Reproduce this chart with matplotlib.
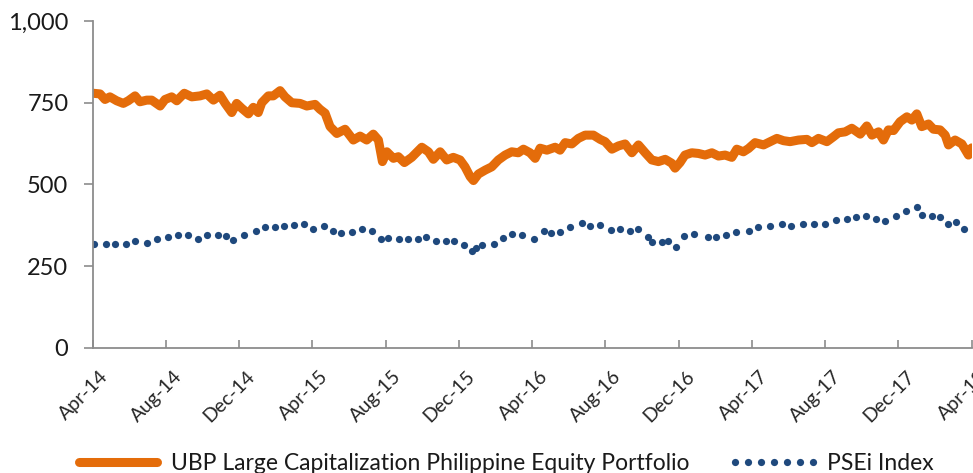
# UBP Large Cap Philippine Equity Portfolio vs PSEi, Apr-14 to Apr-18

import matplotlib.pyplot as plt
import matplotlib.transforms as mtransforms
from matplotlib.lines import Line2D
from matplotlib.ticker import FuncFormatter

plt.rcParams['font.family'] = ['Lato', 'DejaVu Sans']

# x = months since Apr-2014
ubp_month = [0.03, 0.40, 0.67, 0.94, 1.31, 1.67, 1.94, 2.31, 2.58, 2.95, 3.22, 3.68, 3.95,
             4.31, 4.59, 5.00, 5.41, 5.86, 6.23, 6.59, 6.95, 7.23, 7.59, 7.86, 8.14, 8.50,
             8.77, 9.04, 9.23, 9.59, 9.86, 10.23, 10.50, 10.87, 11.32, 11.69, 12.14, 12.41,
             12.69, 12.96, 13.33, 13.78, 14.23, 14.60, 14.96, 15.32, 15.60, 15.82, 16.06,
             16.42, 16.69, 17.02, 17.42, 17.97, 18.33, 18.60, 18.97, 19.33, 19.69, 20.06,
             20.33, 20.61, 20.79, 21.06, 21.43, 21.79, 22.15, 22.52, 22.88, 23.24, 23.52,
             23.88, 24.16, 24.43, 24.80, 25.25, 25.52, 25.80, 26.16, 26.52, 26.89, 27.34,
             27.71, 27.98, 28.35, 28.71, 29.07, 29.44, 29.80, 30.17, 30.53, 30.89, 31.26,
             31.62, 31.80, 32.07, 32.34, 32.71, 33.07, 33.44, 33.81, 34.17, 34.53, 34.90,
             35.17, 35.53, 35.81, 36.17, 36.63, 36.99, 37.36, 37.72, 38.08, 38.54, 39.00,
             39.27, 39.63, 40.09, 40.45, 40.72, 41.09, 41.45, 41.91, 42.27, 42.55, 42.91,
             43.18, 43.45, 43.73, 44.09, 44.46, 44.73, 45.00, 45.27, 45.64, 45.91, 46.27,
             46.55, 46.73, 47.09, 47.46, 47.82, 48.00]
ubp_value = [779, 777, 760, 768, 756, 748, 756, 771, 753, 758, 758, 740, 760,
             768, 756, 779, 768, 771, 777, 758, 773, 748, 720, 748, 733, 716,
             736, 720, 750, 771, 771, 787, 768, 750, 748, 740, 745, 730,
             718, 677, 656, 669, 636, 648, 636, 654, 636, 570, 600,
             580, 585, 567, 583, 614, 600, 577, 600, 575, 583, 575,
             554, 524, 512, 532, 544, 554, 575, 590, 600, 597, 608,
             597, 580, 611, 605, 614, 605, 628, 624, 641, 651, 651,
             638, 631, 608, 618, 624, 597, 621, 597, 575, 570, 577,
             565, 550, 567, 590, 597, 595, 590, 597, 587, 590, 583,
             608, 600, 610, 628, 621, 631, 641, 634, 631, 636, 638,
             628, 641, 631, 646, 658, 661, 672, 654, 679, 651, 661,
             636, 667, 665, 692, 707, 697, 716, 677, 685, 669, 667,
             651, 621, 636, 624, 590, 612]

psei_month = [0.09, 0.71, 1.22, 1.82, 2.31, 2.97, 3.51, 4.13, 4.64, 5.22, 5.74, 6.24, 6.83,
              7.30, 7.66, 8.28, 8.90, 9.41, 9.96, 10.46, 11.01, 11.56, 12.03, 12.65, 13.12,
              13.56, 14.15, 14.69, 15.24, 15.75, 16.11, 16.73, 17.24, 17.75, 18.19, 18.73,
              19.31, 19.72, 20.26, 20.70, 20.95, 21.28, 21.93, 22.41, 22.92, 23.46, 24.10,
              24.66, 25.03, 25.51, 26.08, 26.71, 27.14, 27.72, 28.31, 28.78, 29.33, 29.80,
              30.31, 30.56, 31.08, 31.44, 31.84, 32.28, 32.82, 33.59, 34.02, 34.57, 35.12,
              35.84, 36.32, 37.01, 37.63, 38.14, 38.79, 39.38, 39.96, 40.61, 41.20, 41.67,
              42.22, 42.76, 43.27, 43.86, 44.40, 45.02, 45.31, 45.82, 46.29, 46.73, 47.13,
              47.57]
psei_value = [318, 318, 318, 318, 328, 322, 333, 339, 345, 345, 332, 345, 345,
              342, 330, 346, 357, 369, 371, 373, 375, 378, 365, 374, 358,
              353, 356, 364, 357, 334, 337, 334, 332, 334, 339, 327,
              326, 328, 314, 298, 307, 316, 318, 335, 349, 346, 332,
              359, 351, 355, 369, 383, 374, 376, 361, 365, 359, 363,
              340, 323, 323, 326, 309, 343, 349, 339, 339, 346, 354,
              359, 370, 374, 378, 374, 379, 379, 379, 391, 394, 401,
              405, 394, 389, 404, 420, 430, 408, 405, 400, 379, 384,
              365]

tick_months = [0, 4, 8, 12, 16, 20, 24, 28, 32, 36, 40, 44, 48]
tick_labels = ['Apr-14', 'Aug-14', 'Dec-14', 'Apr-15', 'Aug-15', 'Dec-15', 'Apr-16',
               'Aug-16', 'Dec-16', 'Apr-17', 'Aug-17', 'Dec-17', 'Apr-18']
y_ticks = [0, 250, 500, 750, 1000]

orange = '#E46C0A'
navy = '#1F497D'
grey = '#8C8C8C'

fig = plt.figure(figsize=(9.73, 4.73), dpi=100)
ax = fig.add_axes([0.0953, 0.2643, 0.9034, 0.6913])

ax.plot(ubp_month, ubp_value, color=orange, lw=6.5,
        solid_joinstyle='round', solid_capstyle='round')
ax.plot(psei_month, psei_value, color=navy, ls='none', marker='o', ms=5.2, mew=0)

ax.set_xlim(0, 48)
ax.set_ylim(0, 1000)
ax.set_yticks(y_ticks)
ax.yaxis.set_major_formatter(FuncFormatter(lambda v, p: f'{int(v):,}'))
ax.set_xticks(tick_months)
ax.set_xticklabels(tick_labels, rotation=45, ha='right', rotation_mode='anchor')

for s in ['top', 'right']:
    ax.spines[s].set_visible(False)
for s in ['left', 'bottom']:
    ax.spines[s].set_color(grey)
    ax.spines[s].set_linewidth(1.3)

ax.tick_params(axis='y', direction='out', length=6.5, width=1.2, color=grey,
               labelsize=17, pad=11, labelcolor='#1a1a1a')
ax.tick_params(axis='x', direction='in', length=6, width=1.2, color=grey,
               labelsize=14, pad=14, labelcolor='#262626')

# nudge the rotated date labels a little to the right, as in the original
shift = mtransforms.ScaledTranslation(5 / 72, 0, fig.dpi_scale_trans)
for lbl in ax.get_xticklabels():
    lbl.set_transform(lbl.get_transform() + shift)

handles = [Line2D([], [], color=orange, lw=6.5, solid_capstyle='round'),
           Line2D([], [], color=navy, ls='none', marker='o', ms=5.2, mew=0)]
fig.legend(handles, ['UBP Large Capitalization Philippine Equity Portfolio', 'PSEi Index'],
           loc='center', bbox_to_anchor=(0.5165, 0.02), ncol=2, frameon=False,
           fontsize=16.5, numpoints=7, handlelength=4.0, handletextpad=0.3,
           columnspacing=1.7, labelcolor='#1a1a1a', borderpad=0, borderaxespad=0)

fig.savefig('out.png', dpi=100)
